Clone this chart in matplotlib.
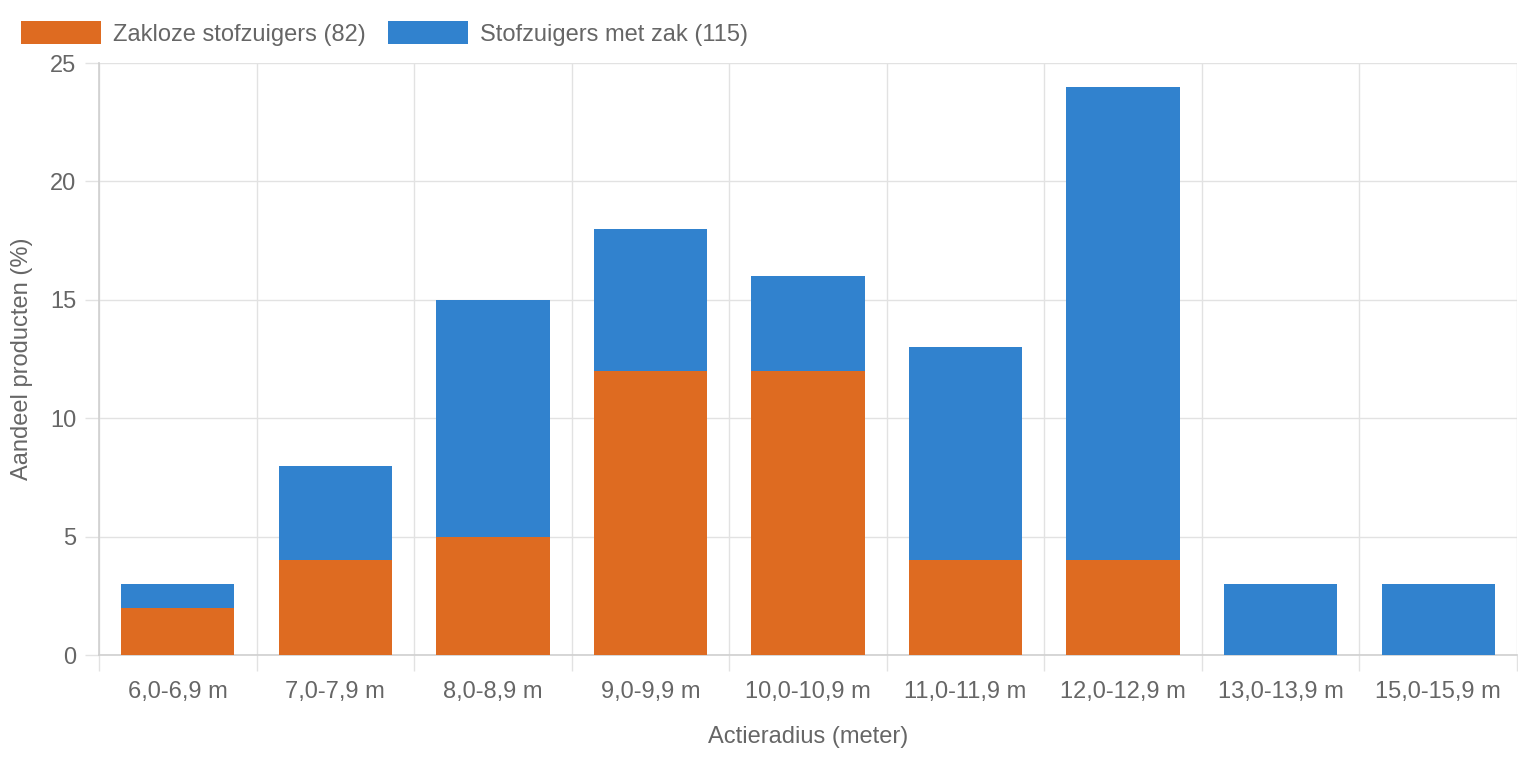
import numpy as np
import matplotlib
matplotlib.use('Agg')
import matplotlib.pyplot as plt
from matplotlib.patches import Patch

plt.rcParams['font.family'] = ['Liberation Sans', 'DejaVu Sans']

categories = ['6,0-6,9 m', '7,0-7,9 m', '8,0-8,9 m', '9,0-9,9 m', '10,0-10,9 m',
              '11,0-11,9 m', '12,0-12,9 m', '13,0-13,9 m', '15,0-15,9 m']
zakloos = [2, 4, 5, 12, 12, 4, 4, 0, 0]
met_zak = [1, 4, 10, 6, 4, 9, 20, 3, 3]
series_labels = ['Zakloze stofzuigers (82)', 'Stofzuigers met zak (115)']
yticks = [0, 5, 10, 15, 20, 25]

orange = '#DE6B21'
blue = '#3182CE'
text_col = '#666666'
grid_col = '#e2e2e2'
fs = 17

fig = plt.figure(figsize=(15.18, 7.58), dpi=100)
ax = fig.add_axes([99 / 1518, 1 - 655 / 758, 1418 / 1518, 592 / 758])

x = np.arange(len(categories))
ax.bar(x, zakloos, width=0.72, color=orange, zorder=3)
ax.bar(x, met_zak, width=0.72, bottom=zakloos, color=blue, zorder=3)

ax.set_xlim(-0.5, len(categories) - 0.5)
ax.set_ylim(0, 25)
ax.set_yticks(yticks)
ax.set_yticklabels([str(t) for t in yticks])
ax.set_xticks(x)
ax.set_xticklabels(categories)

# category boundaries as grid lines / ticks
ax.set_xticks(np.arange(len(categories) + 1) - 0.5, minor=True)
ax.grid(axis='x', which='minor', color=grid_col, linewidth=1, zorder=0)
ax.grid(axis='y', which='major', color=grid_col, linewidth=1, zorder=0)
ax.tick_params(axis='x', which='major', length=0, pad=19, labelsize=fs, labelcolor=text_col)
ax.tick_params(axis='x', which='minor', length=11.5, color=grid_col, width=1)
ax.tick_params(axis='y', which='major', length=10, color=grid_col, width=1, pad=6.5,
               labelsize=fs, labelcolor=text_col)

for side in ['top', 'right']:
    ax.spines[side].set_visible(False)
for side in ['left', 'bottom']:
    ax.spines[side].set_color('#cfcfcf')
    ax.spines[side].set_linewidth(1.2)

ax.set_xlabel('Actieradius (meter)', fontsize=fs, color=text_col, labelpad=16)
ax.set_ylabel('Aandeel producten (%)', fontsize=fs, color=text_col, labelpad=12)

handles = [Patch(facecolor=orange), Patch(facecolor=blue)]
fig.legend(handles, series_labels, loc='upper left', bbox_to_anchor=(0.0, 1.0),
           ncol=2, frameon=False, fontsize=fs, labelcolor=text_col,
           handlelength=3.39, handleheight=1.12, handletextpad=0.5, columnspacing=0.93)

fig.savefig('out.png', dpi=100)
